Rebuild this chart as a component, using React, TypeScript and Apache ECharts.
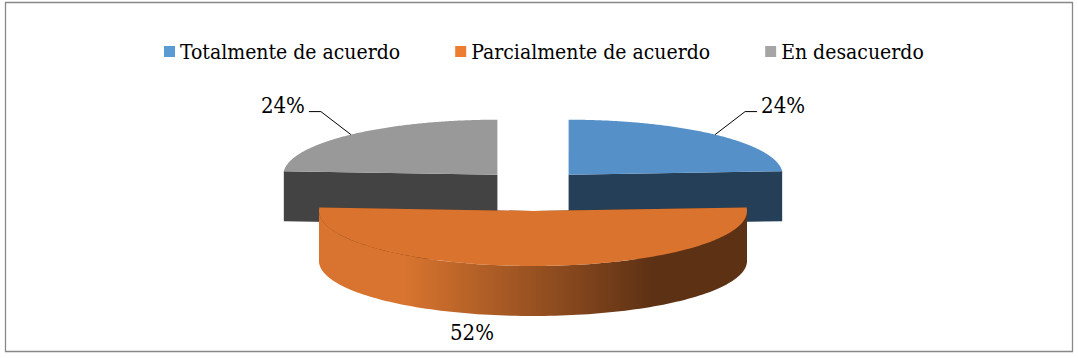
import React, { useEffect, useRef } from "react";
import * as echarts from "echarts";

// ---- data ----
const categories: string[] = ["Totalmente de acuerdo", "Parcialmente de acuerdo", "En desacuerdo"];
const values: number[] = [24, 52, 24];

// ---- styles ----
const legendColors = ["#5B9BD5", "#ED7D31", "#A5A5A5"];
const topColors = ["#5591C8", "#D9732E", "#999999"];
const cutColors = ["#243F57", "#6B3818", "#434343"];
const sideGradients: string[][] = [
  ["#3C6A94", "#243F57"],
  ["#D8742F", "#5D3114"],
  ["#7A7A7A", "#434343"],
];
const PIE = { cx: 533, cy: 190, rx: 214, ry: 55, depth: 50, explodeX: 52, explodeY: 21 };
const FONT = "DejaVu Serif Condensed, DejaVu Serif";
const FONT_SIZE = 21;

const total = values.reduce((a, b) => a + b, 0);
const starts: number[] = [];
values.reduce((acc, v, i) => {
  starts[i] = acc;
  return acc + v;
}, 0);

function makeRenderItem(i: number) {
  return (params: any, api: any) => {
    const v = api.value(0);
    const a0 = (starts[i] / total) * Math.PI * 2;
    const a1 = ((starts[i] + v) / total) * Math.PI * 2;
    const mid = (a0 + a1) / 2;
    const ox = PIE.cx + PIE.explodeX * Math.sin(mid);
    const oy = PIE.cy - PIE.explodeY * Math.cos(mid);
    const P = (t: number, dz = 0) => [ox + PIE.rx * Math.sin(t), oy - PIE.ry * Math.cos(t) + dz];
    const h = PIE.depth;
    const children: any[] = [];

    [a0, a1].forEach((t) => {
      const p = P(t);
      children.push({
        type: "polygon",
        shape: { points: [[ox, oy], p, [p[0], p[1] + h], [ox, oy + h]] },
        style: { fill: cutColors[i] },
      });
    });

    const s = Math.max(a0, Math.PI / 2);
    const e = Math.min(a1, (Math.PI * 3) / 2);
    if (s < e) {
      const pts: number[][] = [];
      const n = 120;
      for (let k = 0; k <= n; k++) pts.push(P(s + ((e - s) * k) / n));
      for (let k = n; k >= 0; k--) pts.push(P(s + ((e - s) * k) / n, h));
      children.push({
        type: "polygon",
        shape: { points: pts },
        style: {
          fill: new echarts.graphic.LinearGradient(0, 0, 1, 0, [
            { offset: 0, color: sideGradients[i][0] },
            { offset: 0.2, color: sideGradients[i][0] },
            { offset: 0.78, color: sideGradients[i][1] },
            { offset: 1, color: sideGradients[i][1] },
          ]),
        },
      });
    }

    const top: number[][] = [[ox, oy]];
    const n2 = 180;
    for (let k = 0; k <= n2; k++) top.push(P(a0 + ((a1 - a0) * k) / n2));
    children.push({ type: "polygon", shape: { points: top }, style: { fill: topColors[i] } });

    const label = Math.round((v / total) * 100) + "%";
    const ts = { text: label, fill: "#000", fontSize: 22, fontFamily: FONT, verticalAlign: "middle" } as any;
    if (mid > Math.PI / 2 && mid < (Math.PI * 3) / 2) {
      const b = P(mid, h);
      children.push({
        type: "text",
        style: { ...ts, x: b[0] - 61, y: b[1] + 16, align: "center" },
      });
    } else {
      const sign = Math.sin(mid) >= 0 ? 1 : -1;
      const st = P(mid);
      const el = [st[0] + sign * 30, st[1] - 23];
      const en = [el[0] + sign * 12, el[1]];
      children.push({
        type: "polyline",
        shape: { points: [st, el, en] },
        style: { stroke: "#000", lineWidth: 1, fill: "none" },
      });
      children.push({
        type: "text",
        style: { ...ts, x: en[0] + sign * 4, y: en[1] - 6, align: sign > 0 ? "left" : "right" },
      });
    }

    return { type: "group", children };
  };
}

export default function App() {
  const ref = useRef<HTMLDivElement>(null);
  useEffect(() => {
    if (!ref.current) return;
    const chart = echarts.init(ref.current, undefined, { renderer: "svg" });
    chart.setOption({
      animation: false,
      backgroundColor: "#fff",
      legend: {
        data: categories,
        left: 159,
        top: 36,
        icon: "rect",
        itemWidth: 11,
        itemHeight: 11,
        itemGap: 55,
        textStyle: { fontSize: FONT_SIZE, fontFamily: FONT, color: "#000" },
      },
      graphic: [
        {
          type: "rect",
          silent: true,
          shape: { x: 5.5, y: 2.5, width: 1067, height: 349 },
          style: { fill: "none", stroke: "#888", lineWidth: 1.3 },
        },
      ],
      series: categories.map((name, i) => ({
        type: "custom",
        name,
        coordinateSystem: "none",
        z: i === 1 ? 3 : 2,
        itemStyle: { color: legendColors[i] },
        data: [[values[i]]],
        renderItem: makeRenderItem(i),
      })),
    });
    return () => chart.dispose();
  }, []);
  return <div ref={ref} style={{ position: "absolute", left: 0, top: 0, width: 1078, height: 358 }} />;
}
